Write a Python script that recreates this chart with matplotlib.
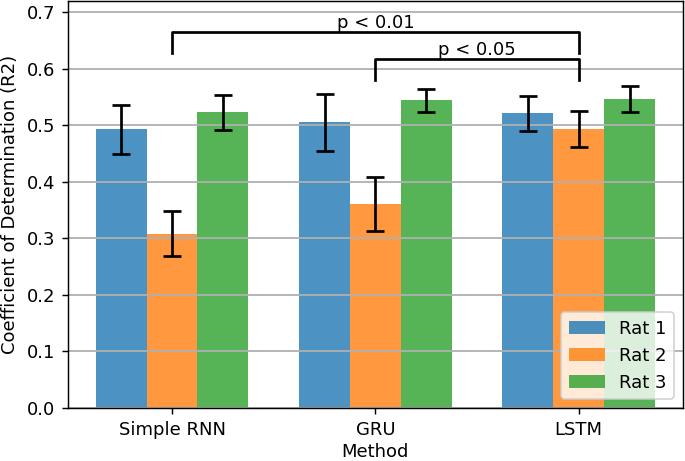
"""Grouped bar chart of R2 per method and rat."""
import numpy as np
from matplotlib import pyplot as plt

methods = ['Simple RNN', 'GRU', 'LSTM']
rats = ['Rat 1', 'Rat 2', 'Rat 3']
colors = ['tab:blue', 'tab:orange', 'tab:green']

# mean R2 and error (per rat, one value per method)
r2_mean = [
    [0.493, 0.505, 0.521],
    [0.308, 0.361, 0.494],
    [0.523, 0.544, 0.546],
]
r2_err = [
    [0.043, 0.050, 0.031],
    [0.040, 0.048, 0.032],
    [0.031, 0.020, 0.023],
]

# significance brackets: (from method, to method, label, bracket base)
brackets = [
    (0, 2, 'p < 0.01', 0.628),
    (1, 2, 'p < 0.05', 0.580),
]
bracket_h = 0.037

fig, ax = plt.subplots(figsize=(685 / 130, 461 / 130), dpi=130)
fig.subplots_adjust(left=0.099, right=0.997, bottom=0.115, top=0.998)

x = np.arange(len(methods))
width = 0.25
for i, rat in enumerate(rats):
    ax.bar(x + (i - 1) * width, r2_mean[i], width, yerr=r2_err[i],
           color=colors[i], alpha=0.8, label=rat,
           error_kw=dict(ecolor='black', capsize=5, elinewidth=1.5,
                         capthick=1.5))

for x0, x1, label, y in brackets:
    ax.plot([x0, x0, x1, x1], [y, y + bracket_h, y + bracket_h, y],
            color='black', lw=1.5)
    ax.text((x0 + x1) / 2, y + bracket_h, label, ha='center', va='bottom')

ax.set_xticks(x)
ax.set_xticklabels(methods)
ax.set_xlabel('Method', labelpad=2.5)
ax.set_ylabel('Coefficient of Determination (R2)')
ax.set_ylim(0, 0.72)
ax.yaxis.grid(True, color='#b0b0b0', lw=1.0)
ax.legend(loc='lower right')

fig.savefig('out.png', dpi=130)
